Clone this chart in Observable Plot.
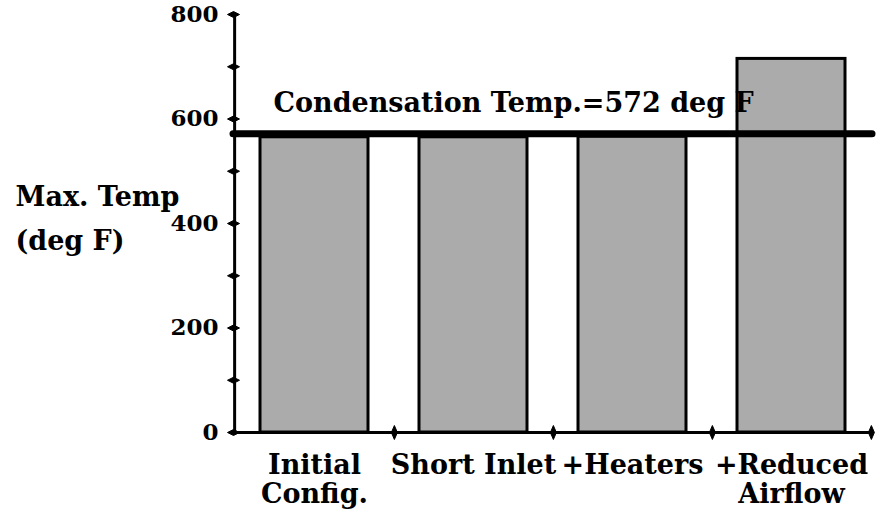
<!DOCTYPE html>
<html><head><meta charset="utf-8">
<script src="https://cdn.jsdelivr.net/npm/d3@7"></script>
<script src="https://cdn.jsdelivr.net/npm/@observablehq/plot@0.6"></script>
<style>body{margin:0;background:#fff}</style>
</head><body><div id="chart"></div>
<script>
const categories = ["Initial Config.", "Short Inlet", "+Heaters", "+Reduced Airflow"];
const categoryLabels = ["Initial\nConfig.", "Short Inlet", "+Heaters", "+Reduced\nAirflow"];
const maxTemps = [565, 565, 566, 715];
const condensationTemp = 572;
const condensationLabel = "Condensation Temp.=572 deg F";
const yTickLabels = [0, 200, 400, 600, 800];
const yTickMarks = [0, 100, 200, 300, 400, 500, 600, 700, 800];
const yAxisLabel = "Max. Temp\n(deg F)";

const data = categories.map((c, i) => ({category: c, label: categoryLabels[i], temp: maxTemps[i]}));

const W = 880, H = 518, mL = 233, mR = 8, mT = 14, mB = 86;
const step = (W - mL - mR) / categories.length;

const hTick = {draw(ctx) {ctx.moveTo(-6, 0); ctx.lineTo(0, -3); ctx.lineTo(6, 0); ctx.lineTo(0, 3); ctx.closePath();}};
const vTick = {draw(ctx) {ctx.moveTo(0, -7); ctx.lineTo(3, 0); ctx.lineTo(0, 7); ctx.lineTo(-3, 0); ctx.closePath();}};

const plot = Plot.plot({
  width: W, height: H,
  marginLeft: mL, marginRight: mR, marginTop: mT, marginBottom: mB,
  style: {fontFamily: "'DejaVu Serif', serif", fontWeight: "bold", color: "black", background: "white"},
  x: {domain: categories, paddingInner: 0.32, paddingOuter: 0.16, axis: null},
  y: {domain: [0, 800]},
  marks: [
    Plot.barY(data, {x: "category", y: "temp", fill: "#ababab", stroke: "black", strokeWidth: 3}),
    Plot.ruleY([0], {stroke: "black", strokeWidth: 3}),
    Plot.ruleX(categories.slice(0, 1), {x: d => d, dx: -step / 2, y1: yTickMarks[0], y2: yTickMarks[yTickMarks.length - 1], stroke: "black", strokeWidth: 3}),
    Plot.axisY({ticks: yTickLabels, tickSize: 0, tickPadding: 15, fontSize: 23, label: null}),
    Plot.dotY(yTickMarks, {y: d => d, frameAnchor: "left", symbol: hTick, fill: "black", stroke: "black", strokeWidth: 1}),
    Plot.dotX(categories, {x: d => d, frameAnchor: "bottom", dx: step / 2, symbol: vTick, fill: "black", stroke: "black", strokeWidth: 1}),
    Plot.text([condensationLabel], {text: d => d, y: [condensationTemp], frameAnchor: "left", dx: 40, dy: -30, textAnchor: "start", fontSize: 27}),
    Plot.ruleY([condensationTemp], {stroke: "black", strokeWidth: 7, strokeLinecap: "round"}),
    Plot.text(data, {x: "category", text: "label", frameAnchor: "bottom", dy: 20, lineAnchor: "top", fontSize: 27, lineHeight: 1.1}),
    Plot.text([yAxisLabel], {text: d => d, frameAnchor: "left", dx: -218, dy: -10, textAnchor: "start", lineHeight: 1.63, fontSize: 27})
  ]
});
document.getElementById("chart").appendChild(plot);
</script>
</body></html>
